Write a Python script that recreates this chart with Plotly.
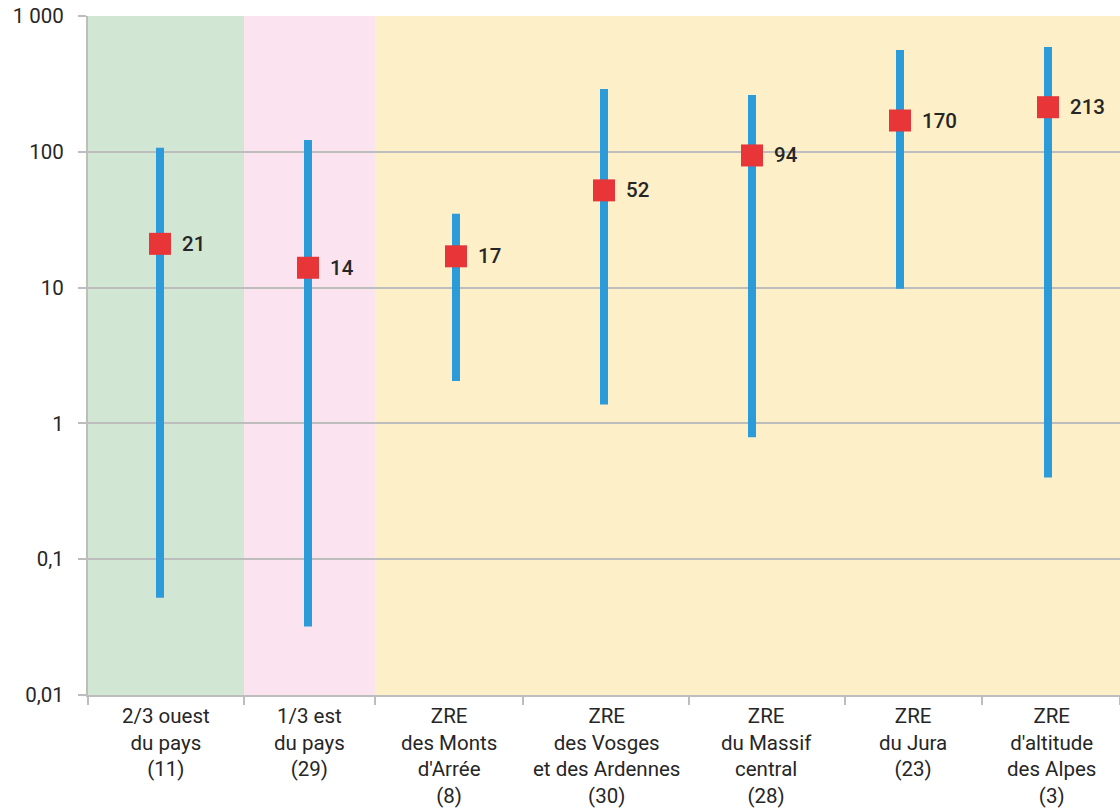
import math
import plotly.graph_objects as go

# Categories (labels) and their zone groups
categories = [
    "2/3 ouest<br>du pays<br>(11)",
    "1/3 est<br>du pays<br>(29)",
    "ZRE<br>des Monts<br>d'Arrée<br>(8)",
    "ZRE<br>des Vosges<br>et des Ardennes<br>(30)",
    "ZRE<br>du Massif<br>central<br>(28)",
    "ZRE<br>du Jura<br>(23)",
    "ZRE<br>d'altitude<br>des Alpes<br>(3)",
]
lows = [0.052, 0.032, 2.05, 1.38, 0.79, 9.8, 0.40]
highs = [107, 122, 35, 290, 262, 562, 592]
medians = [21, 14, 17, 52, 94, 170, 213]

y_tickvals = [0.01, 0.1, 1, 10, 100, 1000]
y_ticktext = ["0,01", "0,1", "1", "10", "100", "1 000"]

# Layout helpers: x extent and category separators (axis units)
x_min, x_max = -0.4865, 6.4865
separators = [x_min, 0.568, 1.453, 2.453, 3.574, 4.628, 5.554, x_max]
zones = [
    (separators[0], separators[1], "#d1e7d3"),
    (separators[1], separators[2], "#fbe4f0"),
    (separators[2], separators[-1], "#fdefc7"),
]

FONT = "Roboto"
TEXT = "#262626"
GRID = "#bdbdbd"
SIZE = 20.5

xs = list(range(len(categories)))

# Range lines (min - max) per category
lx, ly = [], []
for i, lo, hi in zip(xs, lows, highs):
    lx += [i, i, None]
    ly += [lo, hi, None]

fig = go.Figure()
fig.add_trace(go.Scatter(
    x=lx, y=ly, mode="lines",
    line=dict(color="#2b9bd9", width=8),
    hoverinfo="skip", showlegend=False,
))
fig.add_trace(go.Scatter(
    x=xs, y=medians, mode="markers",
    marker=dict(symbol="square", size=22, color="#e83538", line=dict(width=0)),
    showlegend=False,
))

shapes = []
for x0, x1, col in zones:
    shapes.append(dict(type="rect", xref="x", yref="paper", x0=x0, x1=x1,
                       y0=0, y1=1, fillcolor=col, line=dict(width=0), layer="below"))

annotations = []
for i, m in zip(xs, medians):
    annotations.append(dict(
        x=i, y=math.log10(m), xref="x", yref="y", text=str(m),
        showarrow=False, xanchor="left", yanchor="middle", xshift=20,
        font=dict(family=FONT, size=SIZE, color=TEXT, weight=500),
    ))
for k, label in enumerate(categories):
    cx = (separators[k] + separators[k + 1]) / 2
    annotations.append(dict(
        x=cx, y=0, xref="x", yref="paper", text=label, showarrow=False,
        xanchor="center", yanchor="top", yshift=-7, align="center",
        font=dict(family=FONT, size=SIZE, color=TEXT),
    ))

fig.update_layout(
    width=1120, height=809,
    margin=dict(l=88, r=0, t=16, b=114),
    paper_bgcolor="white", plot_bgcolor="white",
    shapes=shapes, annotations=annotations,
    font=dict(family=FONT, size=SIZE, color=TEXT),
    xaxis=dict(
        range=[x_min, x_max], showgrid=False, zeroline=False,
        tickvals=separators, ticktext=[""] * len(separators),
        ticks="outside", ticklen=8, tickwidth=2, tickcolor=GRID,
        showline=True, linecolor=GRID, linewidth=2,
    ),
    yaxis=dict(
        type="log", range=[-2, 3],
        tickvals=y_tickvals, ticktext=y_ticktext,
        showgrid=True, gridcolor=GRID, gridwidth=1.5,
        ticks="outside", ticklen=8, tickwidth=2, tickcolor=GRID,
        showline=True, linecolor=GRID, linewidth=2,
        ticklabelstandoff=10, zeroline=False,
    ),
)

fig.write_html("out.html")
